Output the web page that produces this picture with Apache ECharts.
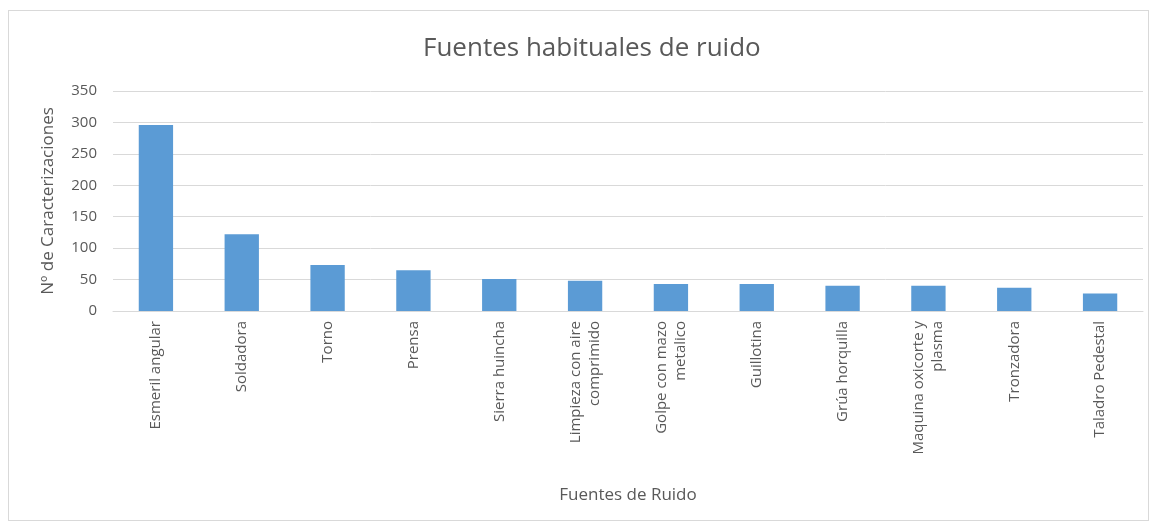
<!DOCTYPE html>
<html>
<head>
<meta charset="utf-8">
<script src="https://cdn.jsdelivr.net/npm/echarts@6/dist/echarts.min.js"></script>
<style>
html,body{margin:0;padding:0;background:#fff;}
#frame{position:absolute;left:8px;top:10px;width:1141px;height:511px;border:1px solid #d9d9d9;box-sizing:border-box;}
#chart{position:absolute;left:0;top:0;width:1156px;height:525px;}
</style>
</head>
<body>
<div id="frame"></div>
<div id="chart"></div>
<script>
const categories = ["Esmeril angular","Soldadora","Torno","Prensa","Sierra huincha","Limpieza con aire\ncomprimido","Golpe con mazo\nmetalico","Guillotina","Grúa horquilla","Maquina oxicorte y\nplasma","Tronzadora","Taladro Pedestal"];
const values = [296,122,73,65,51,48,43,43,40,40,37,28];
const yTicks = {min:0, max:350, interval:50};
const titleText = "Fuentes habituales de ruido";
const yName = "Nº de Caracterizaciones";
const xName = "Fuentes de Ruido";

const font = "'Open Sans', 'Liberation Sans', sans-serif";
const grey = "#595959";
const chart = echarts.init(document.getElementById('chart'));
chart.setOption({
  animation:false,
  title:{text:titleText,left:418,top:31,textStyle:{fontFamily:font,fontSize:26,fontWeight:'normal',color:grey}},
  grid:{left:113,right:13,top:91,bottom:214,containLabel:false},
  xAxis:{type:'category',data:categories,
    axisLine:{lineStyle:{color:'#d9d9d9'}},axisTick:{show:false},
    axisLabel:{rotate:90,interval:0,margin:10,fontFamily:font,fontSize:15,color:grey,lineHeight:19},
    name:xName,nameLocation:'middle',nameGap:176,nameTextStyle:{fontFamily:font,fontSize:17,color:grey}},
  yAxis:{type:'value',min:yTicks.min,max:yTicks.max,interval:yTicks.interval,
    axisLine:{show:false},axisTick:{show:false},
    splitLine:{lineStyle:{color:'#d9d9d9'}},
    axisLabel:{fontFamily:font,fontSize:15,color:grey,margin:16},
    name:yName,nameLocation:'middle',nameGap:56,nameRotate:90,nameTextStyle:{fontFamily:font,fontSize:17,color:grey}},
  series:[{type:'bar',data:values,barWidth:'40%',itemStyle:{color:'#5B9BD5'}}]
});
</script>
</body>
</html>
